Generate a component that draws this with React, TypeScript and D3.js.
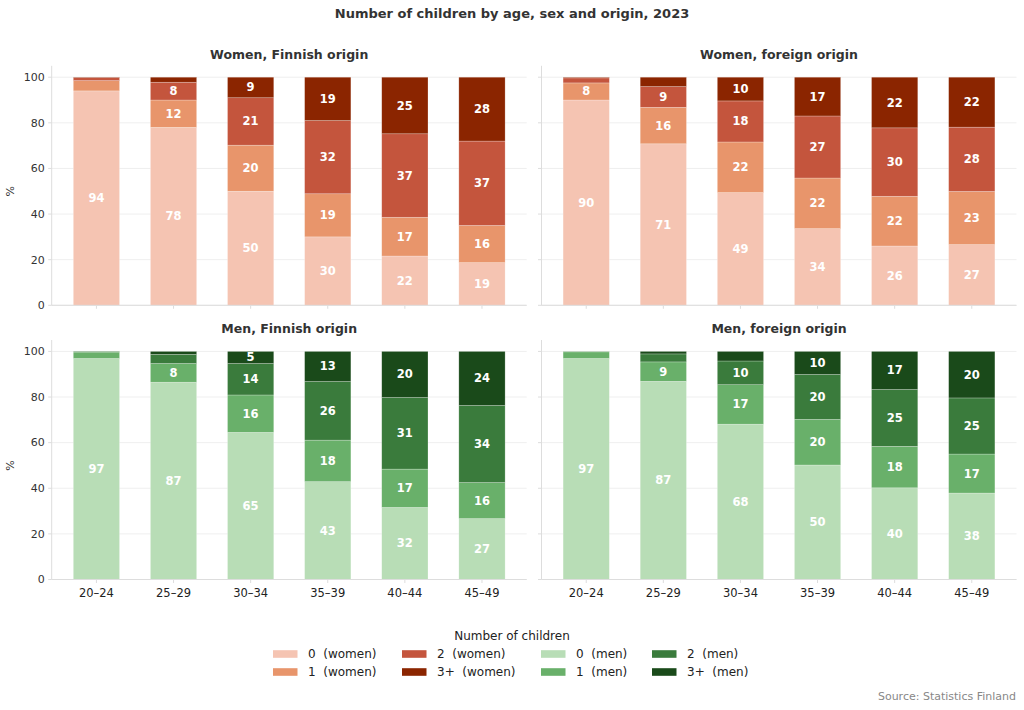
import React from 'react';
import * as d3 from 'd3';

const ages = ['20–24', '25–29', '30–34', '35–39', '40–44', '45–49'];
const keys = ['0', '1', '2', '3+'];

// shares (%) for 0, 1, 2, 3+ children per age group
const womenFinnish = [
  [94.0, 4.5, 1.3, 0.2],
  [78.0, 12.0, 7.8, 2.2],
  [50.0, 20.2, 20.8, 9.0],
  [30.0, 18.9, 32.1, 19.0],
  [21.6, 17.0, 36.6, 24.8],
  [18.7, 16.3, 37.0, 28.0],
];
const womenForeign = [
  [90.0, 7.5, 2.2, 0.3],
  [70.8, 16.0, 9.1, 4.1],
  [49.4, 22.2, 18.0, 10.4],
  [33.6, 22.2, 27.2, 17.0],
  [26.0, 21.8, 30.0, 22.2],
  [26.6, 23.3, 28.2, 21.9],
];
const menFinnish = [
  [96.9, 2.8, 0.3, 0.0],
  [86.5, 8.2, 4.0, 1.3],
  [64.5, 16.4, 13.8, 5.3],
  [42.9, 18.2, 25.7, 13.2],
  [31.6, 16.8, 31.4, 20.2],
  [26.7, 15.8, 33.8, 23.7],
];
const menForeign = [
  [96.9, 2.9, 0.2, 0.0],
  [86.9, 8.5, 3.5, 1.1],
  [68.1, 17.3, 10.4, 4.2],
  [50.2, 20.0, 19.7, 10.1],
  [40.2, 18.2, 24.9, 16.7],
  [37.9, 17.1, 24.6, 20.4],
];

const womenColors = ['#f5c4b2', '#e8956b', '#c4553d', '#8b2500'];
const menColors = ['#b8ddb6', '#69b06a', '#3a7b3c', '#1a4a1a'];

const yTicks = [0, 20, 40, 60, 80, 100];
const legendLabels = ['0  (women)', '1  (women)', '2  (women)', '3+  (women)', '0  (men)', '1  (men)', '2  (men)', '3+  (men)'];

const FONT = 'DejaVu Sans, sans-serif';

type PanelProps = {
  title: string;
  rows: number[][];
  colors: string[];
  left: number;
  top: number;
  width: number;
  height: number;
  showY: boolean;
  showXLabels: boolean;
};

const Panel = ({ title, rows, colors, left, top, width, height, showY, showXLabels }: PanelProps) => {
  const x = d3.scaleBand<string>().domain(ages).range([0, width]).paddingInner(0.4).paddingOuter(0.28);
  const y = d3.scaleLinear().domain([0, 105]).range([height, 0]);
  const table = rows.map((r, i) => {
    const o: any = { age: ages[i] };
    keys.forEach((k, j) => (o[k] = r[j]));
    return o;
  });
  const series = d3.stack<any>().keys(keys)(table);

  return (
    <g transform={`translate(${left},${top})`}>
      <text x={width / 2} y={-11.5} dy="0.35em" textAnchor="middle" fontWeight="bold" fontSize={12.5} fill="#333">
        {title}
      </text>
      {yTicks.map(t => (
        <g key={t}>
          <line x1={0} x2={width} y1={y(t)} y2={y(t)} stroke="#efefef" strokeWidth={1} />
          <line x1={-3.5} x2={0} y1={y(t)} y2={y(t)} stroke="#ddd" strokeWidth={1} />
          {showY && (
            <text x={-7} y={y(t)} dy="0.35em" textAnchor="end" fontSize={11} fill="#333">
              {t}
            </text>
          )}
        </g>
      ))}
      {showY && (
        <text transform={`translate(-38,${y(50)}) rotate(-90)`} textAnchor="middle" fontSize={11} fill="#333">
          %
        </text>
      )}
      {series.map((s, si) => (
        <g key={s.key} fill={colors[si]}>
          {s.map((d, i) => {
            const v = d[1] - d[0];
            const bx = x(ages[i])!;
            return (
              <g key={i}>
                <rect x={bx} y={y(d[1])} width={x.bandwidth()} height={y(d[0]) - y(d[1])} stroke="#fff" strokeOpacity={0.4} strokeWidth={0.6} />
                {v >= 4.95 && (
                  <text
                    x={bx + x.bandwidth() / 2}
                    y={y((d[0] + d[1]) / 2)}
                    dy="0.35em"
                    textAnchor="middle"
                    fontWeight="bold"
                    fontSize={11.5}
                    fill="#fff"
                  >
                    {Math.round(v)}
                  </text>
                )}
              </g>
            );
          })}
        </g>
      ))}
      <line x1={0} x2={0} y1={0} y2={height} stroke="#ddd" strokeWidth={1} />
      <line x1={0} x2={width} y1={height} y2={height} stroke="#ddd" strokeWidth={1} />
      {ages.map(a => (
        <g key={a} transform={`translate(${x(a)! + x.bandwidth() / 2},${height})`}>
          <line y1={0} y2={3.5} stroke="#ddd" />
          {showXLabels && (
            <text y={13} dy="0.35em" textAnchor="middle" fontSize={11.5} fill="#222">
              {a}
            </text>
          )}
        </g>
      ))}
    </g>
  );
};

const App = () => {
  const W = 1024;
  const H = 710;
  const pw = 475;
  const ph = 239.5;
  const lefts = [51.7, 541.5];
  const tops = [65.8, 340];
  const legendColors = [...womenColors, ...menColors];
  const colX = [273, 402, 541, 652];
  const rowY = [654, 672];

  return (
    <svg width={W} height={H} style={{ position: 'absolute', left: 0, top: 0, fontFamily: FONT }}>
      <rect width={W} height={H} fill="#fff" />
      <text x={512} y={13} dy="0.35em" textAnchor="middle" fontWeight="bold" fontSize={13} fill="#333">
        Number of children by age, sex and origin, 2023
      </text>
      <Panel title="Women, Finnish origin" rows={womenFinnish} colors={womenColors} left={lefts[0]} top={tops[0]} width={pw} height={ph} showY showXLabels={false} />
      <Panel title="Women, foreign origin" rows={womenForeign} colors={womenColors} left={lefts[1]} top={tops[0]} width={pw} height={ph} showY={false} showXLabels={false} />
      <Panel title="Men, Finnish origin" rows={menFinnish} colors={menColors} left={lefts[0]} top={tops[1]} width={pw} height={ph} showY showXLabels />
      <Panel title="Men, foreign origin" rows={menForeign} colors={menColors} left={lefts[1]} top={tops[1]} width={pw} height={ph} showY={false} showXLabels />

      <text x={512} y={636} dy="0.35em" textAnchor="middle" fontSize={12} fill="#222">
        Number of children
      </text>
      {legendLabels.map((l, i) => {
        const col = Math.floor(i / 2);
        const row = i % 2;
        return (
          <g key={l} transform={`translate(${colX[col]},${rowY[row]})`}>
            <rect x={0} y={-3.8} width={24.5} height={7.6} fill={legendColors[i]} />
            <text x={35} dy="0.35em" fontSize={12} fill="#222" style={{ whiteSpace: 'pre' }}>
              {l}
            </text>
          </g>
        );
      })}
      <text x={1016} y={696} dy="0.35em" textAnchor="end" fontSize={11} fill="#888">
        Source: Statistics Finland
      </text>
    </svg>
  );
};

export default App;
